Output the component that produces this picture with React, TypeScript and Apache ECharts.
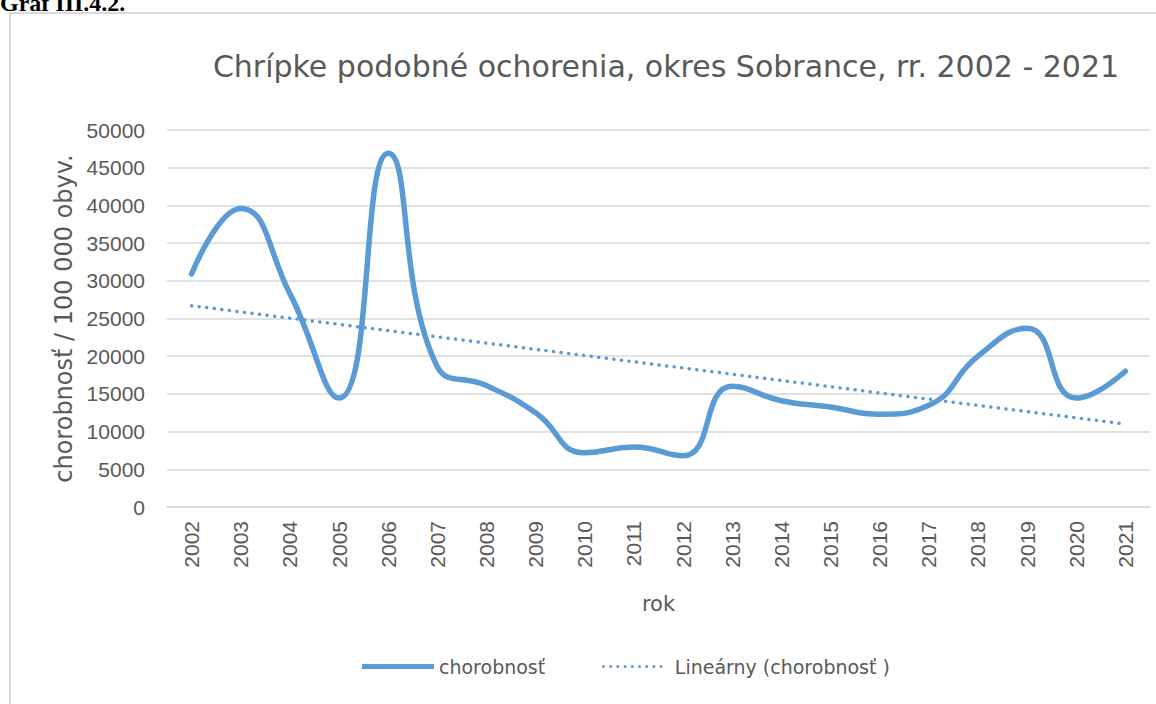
import React, { useEffect, useRef } from "react";
import * as echarts from "echarts";

const years = ["2002","2003","2004","2005","2006","2007","2008","2009","2010","2011","2012","2013","2014","2015","2016","2017","2018","2019","2020","2021"];
const chorobnost = [30900, 39600, 28300, 14450, 46900, 18600, 16100, 12500, 7200, 7950, 6800, 16000, 14100, 13250, 12300, 13500, 20000, 23700, 14450, 18000];
const trendStart = 26700;
const trendEnd = 11000;
const yTicks = { min: 0, max: 50000, interval: 5000 };

const TITLE = "Chrípke podobné ochorenia, okres Sobrance, rr. 2002 - 2021";
const GREY = "#595959";
const BLUE = "#5b9bd5";
const S1 = "chorobnosť";
const S2 = "Lineárny (chorobnosť )";

// legend icons (shapes only)
const SOLID_ICON = "path://M0,0 L72,0 L72,5 L0,5 Z";
const DOT_ICON =
  "path://" +
  Array.from({ length: 9 }, (_, i) => {
    const cx = 1.5 + i * 7.2;
    return `M${cx - 1.5},1.5 A1.5,1.5 0 1,0 ${cx + 1.5},1.5 A1.5,1.5 0 1,0 ${cx - 1.5},1.5 Z`;
  }).join(" ");

export default function App() {
  const ref = useRef<HTMLDivElement>(null);
  useEffect(() => {
    document.body.style.margin = "0";
    const chart = echarts.init(ref.current!, null, { renderer: "svg" });
    const legendText = { fontFamily: "DejaVu Sans", fontSize: 19, color: GREY };
    chart.setOption({
      animation: false,
      backgroundColor: "#ffffff",
      title: {
        text: TITLE,
        left: 661,
        top: 46,
        textAlign: "center",
        textStyle: { fontFamily: "DejaVu Sans", fontSize: 30, fontWeight: "normal", color: GREY },
      },
      graphic: [
        { type: "rect", shape: { x: 10, y: 13, width: 1160, height: 720 }, style: { fill: "none", stroke: "#d9d9d9", lineWidth: 2 }, silent: true },
        { type: "text", x: 0, y: 15, style: { text: "Graf III.4.2.", font: "bold 24px 'Liberation Serif'", fill: "#000", verticalAlign: "bottom" } },
      ],
      legend: [
        {
          top: 652,
          left: 357,
          itemWidth: 72,
          itemHeight: 5,
          itemGap: 5,
          textStyle: legendText,
          data: [{ name: S1, icon: SOLID_ICON, itemStyle: { color: BLUE } }],
        },
        {
          top: 652,
          left: 597,
          itemWidth: 61,
          itemHeight: 3,
          textStyle: { ...legendText, padding: [0, 0, 0, 7] },
          data: [{ name: S2, icon: DOT_ICON, itemStyle: { color: BLUE } }],
        },
      ],
      grid: { left: 167, right: 6, top: 130, bottom: 197 },
      xAxis: {
        type: "category",
        data: years,
        boundaryGap: true,
        name: "rok",
        nameLocation: "middle",
        nameGap: 86,
        nameTextStyle: { fontFamily: "DejaVu Sans", fontSize: 21, color: GREY },
        axisLine: { lineStyle: { color: "#d9d9d9", width: 1.5 } },
        axisTick: { show: false },
        axisLabel: { rotate: 90, margin: 14, fontFamily: "Liberation Sans", fontSize: 21, color: GREY },
      },
      yAxis: {
        type: "value",
        min: yTicks.min,
        max: yTicks.max,
        interval: yTicks.interval,
        name: "chorobnosť / 100 000 obyv.",
        nameLocation: "middle",
        nameGap: 88,
        nameTextStyle: { fontFamily: "DejaVu Sans", fontSize: 24, color: GREY },
        axisLine: { show: false },
        axisTick: { show: false },
        axisLabel: { margin: 22, fontFamily: "Liberation Sans", fontSize: 21, color: GREY, formatter: (v: number) => String(v) },
        splitLine: { lineStyle: { color: "#d9d9d9", width: 1.5 } },
      },
      series: [
        {
          name: S1,
          type: "line",
          data: chorobnost,
          smooth: 0.5,
          symbol: "none",
          lineStyle: { color: BLUE, width: 5.5, cap: "round" },
          itemStyle: { color: BLUE },
        },
        {
          name: S2,
          type: "line",
          data: [[years[0], trendStart], [years[years.length - 1], trendEnd]],
          symbol: "none",
          lineStyle: { color: BLUE, width: 3.5, type: [0.1, 7.5], cap: "round" },
          itemStyle: { color: BLUE },
        },
      ],
    });
    return () => chart.dispose();
  }, []);
  return <div ref={ref} style={{ width: 1156, height: 704, position: "absolute", left: 0, top: 0 }} />;
}
